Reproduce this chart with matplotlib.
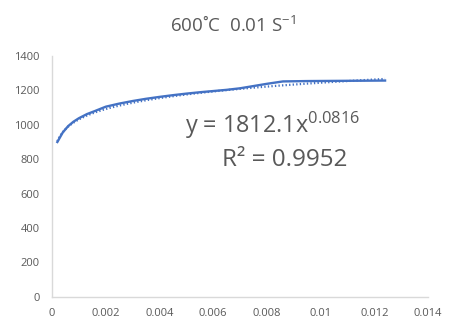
import matplotlib
matplotlib.use("Agg")
import matplotlib.pyplot as plt
import numpy as np

# measured flow curve (strain vs stress, MPa)
strain = [0.0002, 0.0004, 0.0006, 0.0008, 0.001, 0.0013, 0.0016, 0.002,
          0.0025, 0.003, 0.0035, 0.004, 0.0045, 0.005, 0.0055, 0.006,
          0.0065, 0.007, 0.0075, 0.008, 0.0086, 0.0095, 0.0105, 0.0115, 0.0124]
stress = [900, 955, 992, 1018, 1038, 1062, 1080, 1105,
          1123, 1138, 1151, 1162, 1172, 1181, 1189, 1196,
          1203, 1212, 1225, 1238, 1252, 1254, 1255, 1256, 1257]

# power-law trendline coefficients
fit_a = 1812.1
fit_b = 0.0816
fit_r2 = 0.9952

x_ticks = [0, 0.002, 0.004, 0.006, 0.008, 0.01, 0.012, 0.014]
x_labels = ["0", "0.002", "0.004", "0.006", "0.008", "0.01", "0.012", "0.014"]
y_ticks = [0, 200, 400, 600, 800, 1000, 1200, 1400]

blue = "#4472C4"
grey = "#595959"
plt.rcParams['font.family'] = ['Open Sans', 'DejaVu Sans']

fig = plt.figure(figsize=(4.52, 3.31), dpi=100)
ax = fig.add_axes([0.115, 0.103, 0.832, 0.728])

ax.plot(strain, stress, color=blue, linewidth=1.7, zorder=3)
xf = np.linspace(strain[0], strain[-1], 200)
ax.plot(xf, fit_a * xf ** fit_b, color=blue, linewidth=1.6,
        linestyle=(0, (0.6, 1.0)), zorder=2)

ax.set_xlim(0, 0.014)
ax.set_ylim(0, 1400)
ax.set_xticks(x_ticks)
ax.set_xticklabels(x_labels)
ax.set_yticks(y_ticks)
ax.tick_params(length=0, labelsize=8, labelcolor=grey)
ax.tick_params(axis="y", pad=9)
ax.tick_params(axis="x", pad=8)

for side in ("top", "right"):
    ax.spines[side].set_visible(False)
for side in ("left", "bottom"):
    ax.spines[side].set_color("#d9d9d9")
    ax.spines[side].set_linewidth(1.0)

fig.text(0.515, 0.922, r"600˚C  0.01 S$^{\mathregular{-1}}$", ha="center", va="center",
         fontsize=13.5, color=grey)

ax.text(0.0082, 999, r"y = %.1fx$^{\mathregular{%.4f}}$" % (fit_a, fit_b),
        ha="center", va="center", fontsize=16.8, color=grey)
ax.text(0.00865, 796, "R² = %.4f" % fit_r2, ha="center", va="center",
        fontsize=17.5, color=grey)

fig.savefig("out.png", dpi=100)
